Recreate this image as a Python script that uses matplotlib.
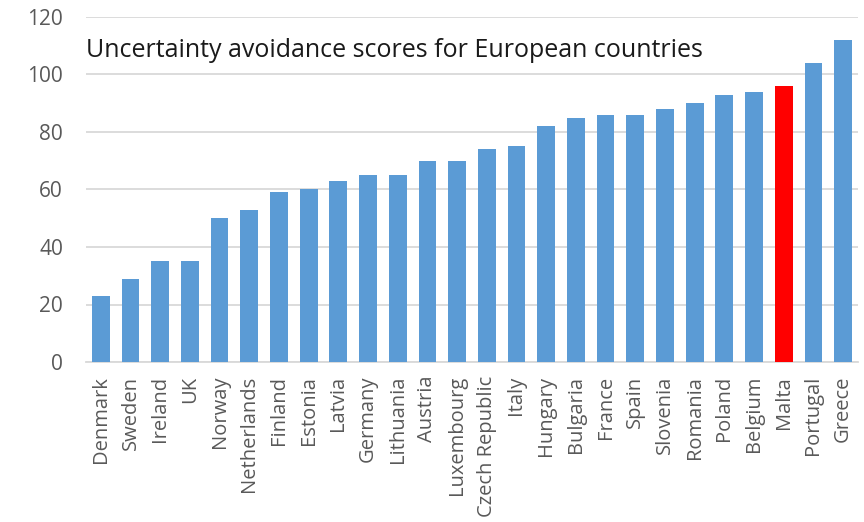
import matplotlib
matplotlib.use("Agg")
import matplotlib.pyplot as plt

countries = ["Denmark", "Sweden", "Ireland", "UK", "Norway", "Netherlands", "Finland",
             "Estonia", "Latvia", "Germany", "Lithuania", "Austria", "Luxembourg",
             "Czech Republic", "Italy", "Hungary", "Bulgaria", "France", "Spain",
             "Slovenia", "Romania", "Poland", "Belgium", "Malta", "Portugal", "Greece"]
scores = [23, 29, 35, 35, 50, 53, 59, 60, 63, 65, 65, 70, 70, 74, 75, 82, 85, 86, 86,
          88, 90, 93, 94, 96, 104, 112]
highlight = "Malta"
yticks = [0, 20, 40, 60, 80, 100, 120]

plt.rcParams["font.family"] = ["Open Sans", "DejaVu Sans"]

fig = plt.figure(figsize=(8.64, 5.22), dpi=100)
ax = fig.add_axes([0.0995, 0.3065, 0.8935, 0.661])

colors = ["#FF0000" if c == highlight else "#5B9BD5" for c in countries]
x = range(len(countries))
ax.bar(x, scores, width=0.6, color=colors, zorder=3)

ax.set_xlim(-0.5, len(countries) - 0.5)
ax.set_ylim(0, 120)
ax.set_yticks(yticks)
ax.set_xticks(list(x))
ax.set_xticklabels(countries, rotation=90, fontsize=14.5, color="#595959")
ax.tick_params(axis="y", labelsize=15, labelcolor="#595959", length=0, pad=16.5)
ax.tick_params(axis="x", length=0, pad=10)

ax.grid(axis="y", color="#D9D9D9", linewidth=1.3, zorder=0)
for s in ["top", "right", "left"]:
    ax.spines[s].set_visible(False)
ax.spines["bottom"].set_color("#D9D9D9")
ax.spines["bottom"].set_linewidth(1.3)

ax.text(-0.5, 108.5, "Uncertainty avoidance scores for European countries",
        fontsize=18, color="#1a1a1a", ha="left", va="center")

fig.savefig("out.png", dpi=100)
